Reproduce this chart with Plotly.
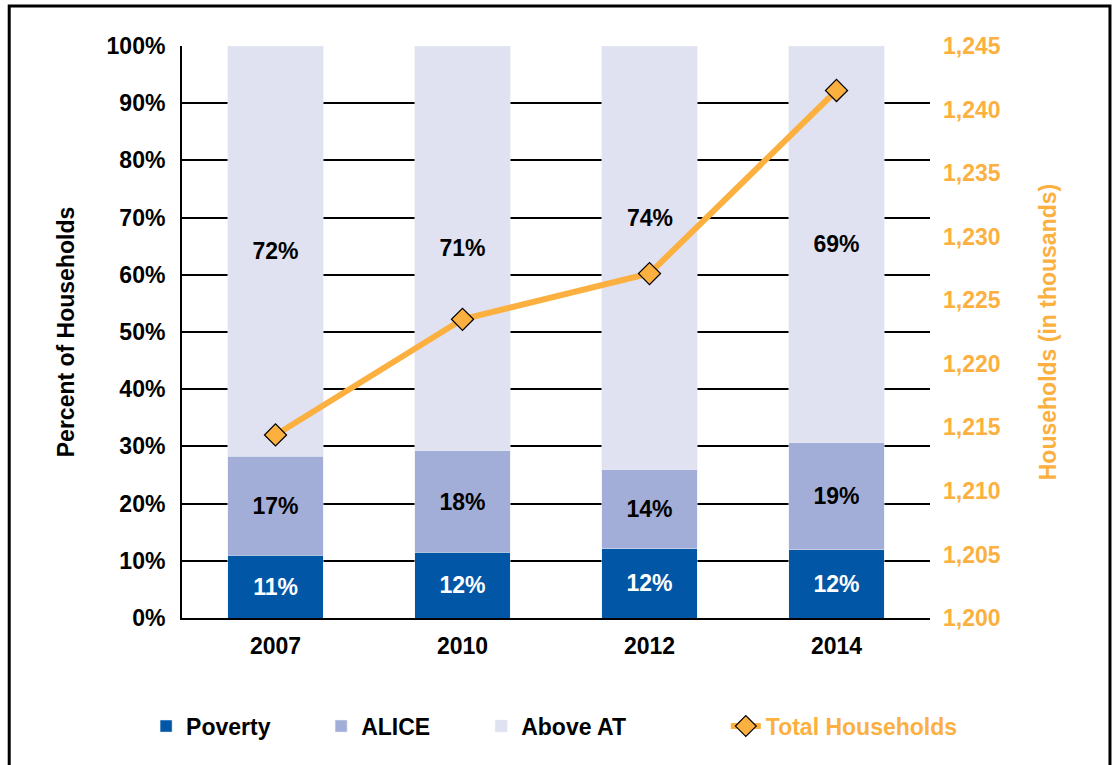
import plotly.graph_objects as go

years = ["2007", "2010", "2012", "2014"]
poverty = [11.0, 11.5, 12.1, 11.9]
alice = [17.3, 17.7, 13.8, 18.7]
above = [71.7, 70.8, 74.1, 69.4]
poverty_lbl = ["11%", "12%", "12%", "12%"]
alice_lbl = ["17%", "18%", "14%", "19%"]
above_lbl = ["72%", "71%", "74%", "69%"]
households = [1214.4, 1223.5, 1227.1, 1241.5]

FONT = "Liberation Sans, Arial, sans-serif"
ORANGE = "#FBB040"
FS = 23

# the 2012 "Above AT" label sits higher in the original to clear the line
moved_label = 2
above_bar_text = ["" if i == moved_label else s for i, s in enumerate(above_lbl)]

fig = go.Figure()
fig.add_bar(x=years, y=poverty, name="<b>Poverty</b>", marker_color="#0156A6",
            text=poverty_lbl, texttemplate="<b>%{text}</b>",
            textposition="inside", insidetextanchor="middle",
            textfont=dict(color="white", size=FS, family=FONT), legend="legend")
fig.add_bar(x=years, y=alice, name="<b>ALICE</b>", marker_color="#A3AED8",
            text=alice_lbl, texttemplate="<b>%{text}</b>",
            textposition="inside", insidetextanchor="middle",
            textfont=dict(color="black", size=FS, family=FONT), legend="legend2")
fig.add_bar(x=years, y=above, name="<b>Above AT</b>", marker_color="#E0E2F1",
            text=above_bar_text, texttemplate="<b>%{text}</b>",
            textposition="inside", insidetextanchor="middle",
            textfont=dict(color="black", size=FS, family=FONT), legend="legend3")
fig.add_scatter(x=years, y=households, yaxis="y2", mode="lines+markers",
                name="<span style='color:%s'><b>Total Households</b></span>" % ORANGE,
                line=dict(color=ORANGE, width=6),
                marker=dict(symbol="diamond", size=17, color=ORANGE,
                            line=dict(color="black", width=1.2)),
                legend="legend4")

fig.add_annotation(x=moved_label, y=70, xref="x", yref="y",
                   text="<b>%s</b>" % above_lbl[moved_label], showarrow=False,
                   font=dict(size=FS, family=FONT, color="black"))

def leg(x):
    return dict(orientation="h", x=x, xanchor="left", y=-0.189, yanchor="middle",
                font=dict(size=FS, family=FONT, color="black"),
                bgcolor="rgba(0,0,0,0)", itemwidth=30)

fig.update_layout(
    barmode="stack", bargap=0.49,
    width=1118, height=765,
    margin=dict(l=182, r=188, t=46, b=147),
    paper_bgcolor="white", plot_bgcolor="white",
    font=dict(family=FONT, size=FS, color="black"),
    showlegend=True,
    legend=leg(-0.048), legend2=leg(0.186), legend3=leg(0.400), legend4=leg(0.727),
    xaxis=dict(type="category", showline=True, linecolor="black", linewidth=2,
               tickfont=dict(size=FS, family=FONT, weight="bold"),
               ticks="", ticklabelstandoff=6),
    yaxis=dict(range=[0, 100], tickvals=list(range(0, 101, 10)),
               ticktext=["%d%%" % v for v in range(0, 101, 10)],
               showgrid=True, gridcolor="black", gridwidth=2,
               showline=True, linecolor="black", linewidth=2,
               zeroline=False, ticks="", ticklabelstandoff=10,
               tickfont=dict(size=FS, family=FONT, weight="bold"),
               title=dict(text="<b>Percent of Households</b>", font=dict(size=FS, family=FONT),
                          standoff=26)),
    yaxis2=dict(range=[1200, 1245], tickvals=list(range(1200, 1246, 5)),
                overlaying="y", side="right", showgrid=False, zeroline=False,
                showline=False, ticks="", ticklabelstandoff=12,
                tickformat=",d",
                tickfont=dict(size=FS, family=FONT, weight="bold", color=ORANGE),
                title=dict(text="<b>Households (in thousands)</b>",
                           font=dict(size=FS, family=FONT, color=ORANGE), standoff=40)),
)

fig.add_shape(type="rect", xref="paper", yref="paper",
              x0=-0.231, x1=1.2406, y0=-0.27, y1=1.07,
              line=dict(color="black", width=3), fillcolor="rgba(0,0,0,0)", layer="below")

fig.write_html("out.html", config={"displayModeBar": False},
               post_script="document.body.style.margin='0';")
